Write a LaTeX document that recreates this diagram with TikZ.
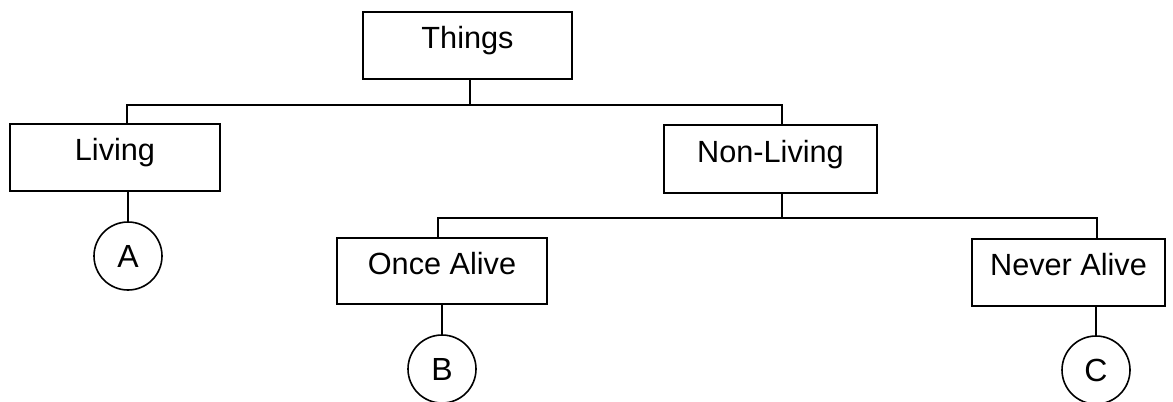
\documentclass[tikz,border=0pt]{standalone}
\usepackage{fontspec}
\setmainfont{Liberation Sans}
\tikzstyle{box}=[draw,line width=1.4pt,inner sep=0pt,text height=0.75em,text depth=0.25em,font=\fontsize{23}{28}\selectfont]
\tikzstyle{leaf}=[circle,draw,line width=1.2pt,minimum size=51pt,inner sep=0pt,font=\fontsize{24}{28}\selectfont]
\tikzstyle{link}=[line width=1.4pt]

\begin{document}
\begin{tikzpicture}[x=0.75pt,y=-0.75pt]
\useasboundingbox (0,0) rectangle (1173,401);
\node[box,minimum width=156.75pt,minimum height=50.25pt] (things) at (467.5,45.5) {Things};
\node[box,minimum width=157.5pt,minimum height=50.25pt] (living) at (115,157.5) {Living};
\node[box,minimum width=159.75pt,minimum height=51pt] (nonliving) at (770.5,159) {Non-Living};
\node[box,minimum width=157.5pt,minimum height=49.5pt] (once) at (442,271) {Once Alive};
\node[box,minimum width=144.75pt,minimum height=50.25pt] (never) at (1068.5,272.5) {Never Alive};
\node[leaf] (a) at (128,256) {A};
\node[leaf] (b) at (442,369) {B};
\node[leaf] (c) at (1096,370) {C};
% first level
\coordinate (bar1l) at (127,105);
\coordinate (bar1m) at (470,105);
\coordinate (bar1r) at (782,105);
\draw[link] (bar1m |- things.south) -- (bar1m);
\draw[link] (bar1l |- living.north) -- (bar1l) -- (bar1r) -- (bar1r |- nonliving.north);
% second level
\coordinate (bar2l) at (438,218);
\coordinate (bar2m) at (782,218);
\coordinate (bar2r) at (1097,218);
\draw[link] (bar2m |- nonliving.south) -- (bar2m);
\draw[link] (bar2l |- once.north) -- (bar2l) -- (bar2r) -- (bar2r |- never.north);
% leaves
\draw[link] (a.north |- living.south) -- (a);
\draw[link] (b.north |- once.south) -- (b);
\draw[link] (c.north |- never.south) -- (c);
\end{tikzpicture}
\end{document}
